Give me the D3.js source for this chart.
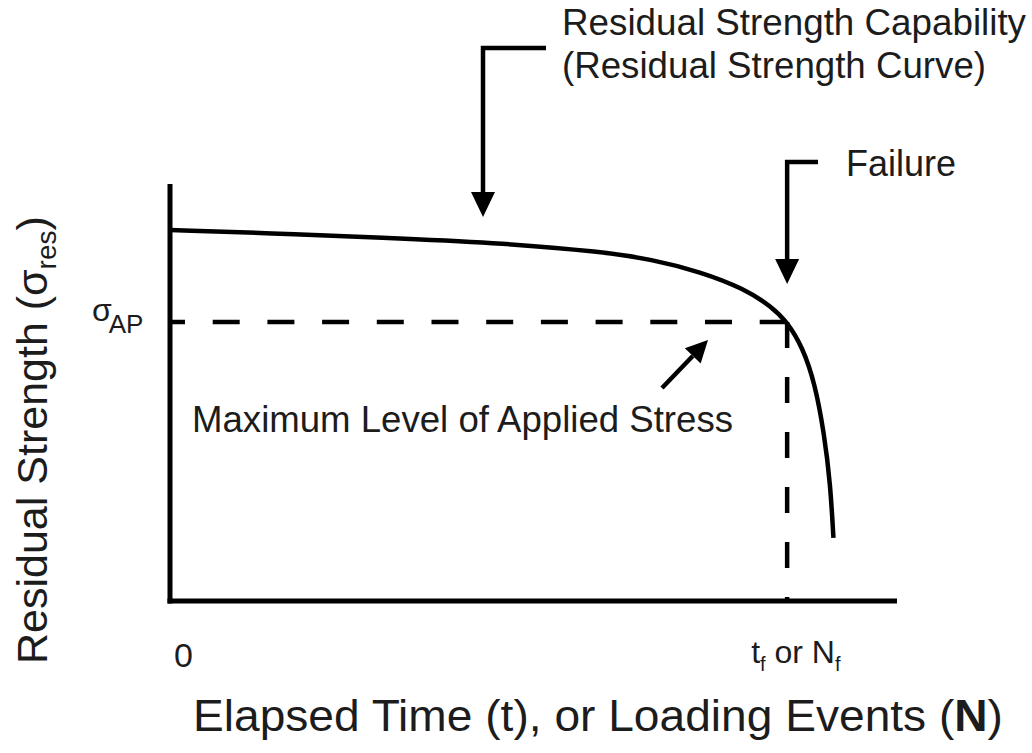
<!DOCTYPE html>
<html>
<head>
<meta charset="utf-8">
<script src="https://cdn.jsdelivr.net/npm/d3@7"></script>
<style>
  body { margin: 0; background: #fff; }
  svg { display: block; font-family: "Liberation Sans", Arial, Helvetica, sans-serif; }
  text { fill: #1c1c1c; }
</style>
</head>
<body>
<svg></svg>
<script>
// residual strength curve, time normalised so that t_f = 1, stress so that sigma_AP = 1
var timeVals = [0, 0.21, 0.37, 0.54, 0.70, 0.78, 0.86, 0.93, 0.975, 1.0, 1.025, 1.045, 1.06, 1.07, 1.075];
var strengthVals = [1.33, 1.315, 1.30, 1.283, 1.252, 1.225, 1.18, 1.12, 1.055, 1.0, 0.91, 0.78, 0.60, 0.42, 0.226];

var sigmaAP = 1.0;   // maximum level of applied stress
var tFail = 1.0;     // time / events to failure

var xTickLabels = ["0", "tf or Nf"];
var yTickLabels = ["σAP"];

var width = 1032,
    height = 753;

var svg = d3.select("svg")
    .attr("width", width)
    .attr("height", height);

var x = d3.scaleLinear().domain([0, 1.178]).range([170, 897]);
var y = d3.scaleLinear().domain([0, 1.495]).range([601, 184]);

var points = timeVals.map(function(t, i) { return [t, strengthVals[i]]; });

// axes (plain L-shaped frame)
svg.append("line")
    .attr("x1", x(0)).attr("x2", x(0))
    .attr("y1", y(1.495)).attr("y2", y(0) + 2.5)
    .attr("stroke", "#000").attr("stroke-width", 5);
svg.append("line")
    .attr("x1", x(0) - 2.5).attr("x2", x(1.178))
    .attr("y1", y(0)).attr("y2", y(0))
    .attr("stroke", "#000").attr("stroke-width", 5);

// dashed guide lines
svg.append("line")
    .attr("x1", x(0)).attr("x2", x(tFail))
    .attr("y1", y(sigmaAP)).attr("y2", y(sigmaAP))
    .attr("stroke", "#000").attr("stroke-width", 4.5)
    .attr("stroke-dasharray", "27 27.7")
    .attr("stroke-dashoffset", 12);
svg.append("line")
    .attr("x1", x(tFail)).attr("x2", x(tFail))
    .attr("y1", y(sigmaAP)).attr("y2", y(0))
    .attr("stroke", "#000").attr("stroke-width", 4.5)
    .attr("stroke-dasharray", "26 29");

// the curve
var line = d3.line()
    .x(function(d) { return x(d[0]); })
    .y(function(d) { return y(d[1]); })
    .curve(d3.curveBasis);

svg.append("path")
    .datum(points)
    .attr("d", line)
    .attr("fill", "none")
    .attr("stroke", "#000")
    .attr("stroke-width", 4.5);

// arrows
function bentArrow(xv, yTop, yTip, xEnd) {
  svg.append("path")
      .attr("d", "M" + xEnd + "," + yTop + "H" + xv + "V" + (yTip - 18))
      .attr("fill", "none")
      .attr("stroke", "#000")
      .attr("stroke-width", 4.5);
  svg.append("path")
      .attr("d", "M" + (xv - 12) + "," + (yTip - 25) + "L" + (xv + 12) + "," + (yTip - 25) + "L" + xv + "," + yTip + "Z")
      .attr("fill", "#000");
}
bentArrow(483, 48, 217, 546);
bentArrow(x(tFail), 162, y(sigmaAP) - 38, 818);

// small diagonal arrow to the applied stress line
var ax0 = 662, ay0 = 388, ax1 = 708, ay1 = y(sigmaAP) + 18;
var ang = Math.atan2(ay1 - ay0, ax1 - ax0);
var hl = 22, hw = 11;
var bx = ax1 - hl * Math.cos(ang), by = ay1 - hl * Math.sin(ang);
svg.append("line")
    .attr("x1", ax0).attr("y1", ay0)
    .attr("x2", bx).attr("y2", by)
    .attr("stroke", "#000").attr("stroke-width", 4.5);
svg.append("path")
    .attr("d", "M" + ax1 + "," + ay1 +
      "L" + (bx + hw * Math.sin(ang)) + "," + (by - hw * Math.cos(ang)) +
      "L" + (bx - hw * Math.sin(ang)) + "," + (by + hw * Math.cos(ang)) + "Z")
    .attr("fill", "#000");

// annotation texts
svg.append("text").attr("x", 562).attr("y", 35).attr("font-size", 36)
    .attr("textLength", 464).attr("lengthAdjust", "spacingAndGlyphs")
    .text("Residual Strength Capability");
svg.append("text").attr("x", 562).attr("y", 78).attr("font-size", 36)
    .attr("textLength", 424).attr("lengthAdjust", "spacingAndGlyphs")
    .text("(Residual Strength Curve)");
svg.append("text").attr("x", 846).attr("y", 176).attr("font-size", 36)
    .text("Failure");
svg.append("text").attr("x", 192).attr("y", 432).attr("font-size", 37)
    .attr("textLength", 541).attr("lengthAdjust", "spacingAndGlyphs")
    .text("Maximum Level of Applied Stress");

// y tick label sigma_AP
var yl = svg.append("text").attr("x", 92).attr("y", y(sigmaAP) - 1).attr("font-size", 32);
yl.append("tspan").text(yTickLabels[0].charAt(0));
yl.append("tspan").attr("dy", 12).attr("dx", -3).attr("font-size", 26).text(yTickLabels[0].slice(1));

// x tick labels
svg.append("text").attr("x", x(0) + 4).attr("y", 667).attr("font-size", 34)
    .text(xTickLabels[0]);
var xl = svg.append("text").attr("x", x(tFail) - 36).attr("y", 663).attr("font-size", 32);
var parts = xTickLabels[1].split(" ");
xl.append("tspan").text(parts[0].charAt(0));
xl.append("tspan").attr("font-size", 20).attr("dy", 8).text(parts[0].slice(1));
xl.append("tspan").attr("dy", -8).text(" " + parts[1] + " " + parts[2].charAt(0));
xl.append("tspan").attr("font-size", 20).attr("dy", 8).text(parts[2].slice(1));

// axis titles
var yt = svg.append("text")
    .attr("transform", "translate(47,664) rotate(-90)")
    .attr("font-size", 43);
yt.append("tspan").text("Residual Strength (σ");
yt.append("tspan").attr("font-size", 28).attr("dy", 9).text("res");
yt.append("tspan").attr("dy", -9).text(")");

var xt = svg.append("text").attr("x", 193).attr("y", 731).attr("font-size", 44)
    .attr("textLength", 810).attr("lengthAdjust", "spacingAndGlyphs");
xt.append("tspan").text("Elapsed Time (t), or Loading Events (");
xt.append("tspan").attr("font-weight", "bold").text("N");
xt.append("tspan").text(")");
</script>
</body>
</html>
